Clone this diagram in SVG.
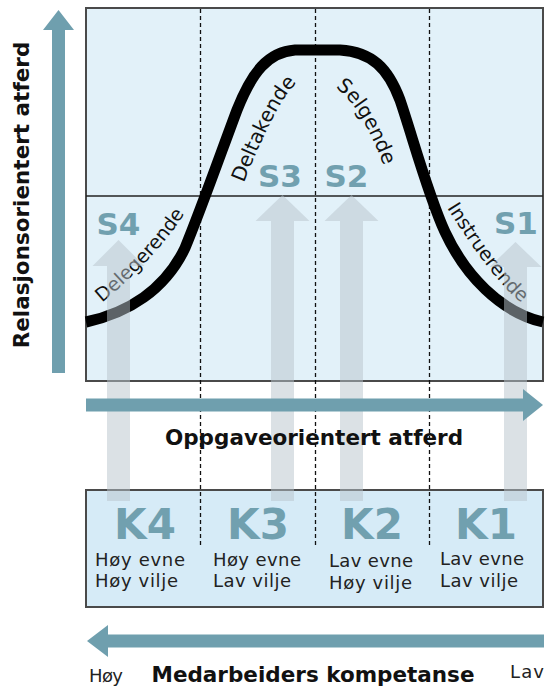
<svg xmlns="http://www.w3.org/2000/svg" xmlns:xlink="http://www.w3.org/1999/xlink" width="545" height="686" viewBox="0 0 545 686">
<style>
  text { font-family: "DejaVu Sans", Verdana, sans-serif; }
  .ax { font-weight: bold; font-size: 21.5px; fill: #111; }
  .big { font-weight: bold; fill: #71a0af; }
  .sm { font-size: 18px; fill: #222; }
  .cl { fill: #111; }
  .box { stroke: #4a4a4a; stroke-width: 2; }
  .dash { stroke: #111; stroke-width: 1.3; stroke-dasharray: 4 3; fill: none; }
  .blue { fill: #6f9fae; }
  .ghost { fill: #b8c3cb; opacity: 0.5; }
</style>
<defs>
  <path id="pDeleg" d="M97,307 Q160,255 188,208"/>
  <path id="pDeltak" d="M241,190 Q278,95 302,78"/>
  <path id="pSelg" d="M330,84 Q360,100 386,172"/>
  <path id="pInstr" d="M446,206 Q492,280 523,304"/>
</defs>

<g id="frame-top">
  <rect x="86" y="8" width="457" height="373" fill="#e2f1f9" class="box"/>
  <line x1="86" y1="196" x2="543" y2="196" stroke="#222" stroke-width="1.5"/>
</g>
<g id="frame-bottom">
  <rect x="86" y="490" width="457" height="117" fill="#d6ebf7" class="box"/>
</g>

<g id="dividers">
  <line class="dash" x1="200.5" y1="9" x2="200.5" y2="546"/>
  <line class="dash" x1="315.5" y1="9" x2="315.5" y2="546"/>
  <line class="dash" x1="429.5" y1="9" x2="429.5" y2="546"/>
</g>

<g id="curve">
  <path d="M86,322 C128,313 165,290 185,248 C200,212 222,150 237,110 C252,72 268,52 295,50 L340,50 C372,52 388,68 400,100 C412,135 428,195 445,232 C465,275 500,312 543,322" fill="none" stroke="#000" stroke-width="11"/>
</g>

<g id="style-labels">
  <text class="cl" font-size="19"><textPath xlink:href="#pDeleg" href="#pDeleg" startOffset="50%" text-anchor="middle">Delegerende</textPath></text>
  <text class="cl" font-size="20"><textPath xlink:href="#pDeltak" href="#pDeltak" startOffset="50%" text-anchor="middle">Deltakende</textPath></text>
  <text class="cl" font-size="20"><textPath xlink:href="#pSelg" href="#pSelg" startOffset="50%" text-anchor="middle">Selgende</textPath></text>
  <text class="cl" font-size="19"><textPath xlink:href="#pInstr" href="#pInstr" startOffset="50%" text-anchor="middle">Instruerende</textPath></text>
</g>

<g id="S-labels">
  <text class="big" font-size="31" x="118.5" y="235" text-anchor="middle">S4</text>
  <text class="big" font-size="31" x="280" y="187" text-anchor="middle">S3</text>
  <text class="big" font-size="31" x="346.5" y="187" text-anchor="middle">S2</text>
  <text class="big" font-size="31" x="516" y="234" text-anchor="middle">S1</text>
</g>

<g id="connectors">
  <path class="ghost" d="M107,501 V266 H92.5 L118.5,240 L144.5,266 H130 V501 Z"/>
  <path class="ghost" d="M271,501 V221 H255.5 L282.5,195 L309.5,221 H294 V501 Z"/>
  <path class="ghost" d="M340,501 V221 H324.5 L351.5,195 L378.5,221 H363 V501 Z"/>
  <path class="ghost" d="M504,501 V267 H489.5 L515.5,242 L541.5,267 H527 V501 Z"/>
</g>

<g id="axis-vertical">
  <path class="blue" d="M52,373 V30 H43 L58.5,10 L74,30 H65 V373 Z"/>
  <text class="ax" font-size="23" transform="translate(29,195) rotate(-90)" text-anchor="middle">Relasjonsorientert atferd</text>
</g>

<g id="axis-horizontal">
  <path class="blue" d="M86,398.5 H523 V389 L543,405 L523,421 V411.5 H86 Z"/>
  <text class="ax" x="314" y="445" text-anchor="middle">Oppgaveorientert atferd</text>
</g>

<g id="K4">
  <text class="big" font-size="42" x="145" y="539" text-anchor="middle">K4</text>
  <text class="sm" x="95" y="566" textLength="90" lengthAdjust="spacing">Høy evne</text>
  <text class="sm" x="95" y="587" textLength="83" lengthAdjust="spacing">Høy vilje</text>
</g>
<g id="K3">
  <text class="big" font-size="42" x="258" y="539" text-anchor="middle">K3</text>
  <text class="sm" x="213" y="566" textLength="88" lengthAdjust="spacing">Høy evne</text>
  <text class="sm" x="213" y="587" textLength="78" lengthAdjust="spacing">Lav vilje</text>
</g>
<g id="K2">
  <text class="big" font-size="42" x="372" y="539" text-anchor="middle">K2</text>
  <text class="sm" x="329" y="567" textLength="84" lengthAdjust="spacing">Lav evne</text>
  <text class="sm" x="329" y="589" textLength="83" lengthAdjust="spacing">Høy vilje</text>
</g>
<g id="K1">
  <text class="big" font-size="42" x="486" y="539" text-anchor="middle">K1</text>
  <text class="sm" x="440" y="565" textLength="84" lengthAdjust="spacing">Lav evne</text>
  <text class="sm" x="440" y="587" textLength="78" lengthAdjust="spacing">Lav vilje</text>
</g>

<g id="axis-competence">
  <path class="blue" d="M544,634.5 H108 V625 L87,641 L108,657 V647.5 H544 Z"/>
  <text class="sm" font-size="17" x="89" y="682" textLength="34" lengthAdjust="spacing">Høy</text>
  <text class="ax" x="313" y="682" text-anchor="middle">Medarbeiders kompetanse</text>
  <text class="sm" font-size="17" x="510" y="678" textLength="34" lengthAdjust="spacing">Lav</text>
</g>
</svg>
